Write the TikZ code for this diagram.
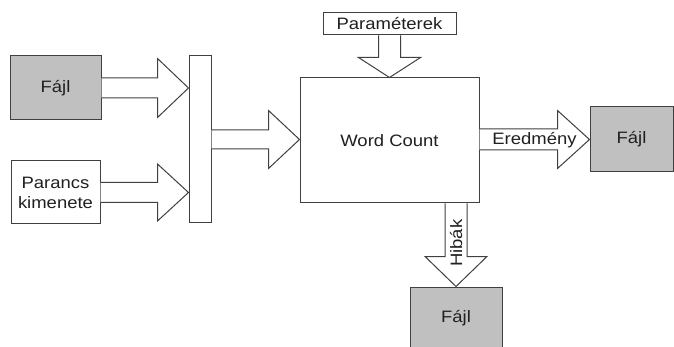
\documentclass[tikz,border=0pt]{standalone}
\usepackage{fontspec}
\setmainfont{Liberation Sans}[FakeStretch=1.12]
\usetikzlibrary{calc}
\definecolor{linec}{HTML}{404040}
\definecolor{filec}{HTML}{C0C0C0}
\definecolor{textc}{HTML}{202020}
\tikzset{
  box/.style={draw=linec, line width=1pt, inner sep=0pt, align=center, text=textc, font=\fontsize{16.5}{20}\selectfont},
  filebox/.style={box, fill=filec},
  barrow/.style={draw=linec, line width=1pt, fill=white},
  lbl/.style={inner sep=0pt, text=textc, font=\fontsize{16.5}{20}\selectfont}
}
\newcommand\harrowblk[5]{\draw[barrow] let \p1=(#1), \p2=(#2) in (\x1,{\y2+#3pt}) -- ({\x2-#5pt},{\y2+#3pt}) -- ({\x2-#5pt},{\y2+#4pt}) -- (\x2,\y2) -- ({\x2-#5pt},{\y2-#4pt}) -- ({\x2-#5pt},{\y2-#3pt}) -- (\x1,{\y2-#3pt});}
\newcommand\varrowblk[5]{\draw[barrow] let \p1=(#1), \p2=(#2) in ({\x2-#3pt},\y1) -- ({\x2-#3pt},{\y2+#5pt}) -- ({\x2-#4pt},{\y2+#5pt}) -- (\x2,\y2) -- ({\x2+#4pt},{\y2+#5pt}) -- ({\x2+#3pt},{\y2+#5pt}) -- ({\x2+#3pt},\y1);}
\begin{document}
\begin{tikzpicture}[x=1pt,y=-1pt]
\useasboundingbox (0,0) rectangle (674,347);
\node[filebox, minimum width=91pt, minimum height=64pt] (fajl1) at (55.5,88) {Fájl};
\node[box, fill=white, minimum width=89pt, minimum height=63pt] (parancs) at (55.5,192.5) {Parancs\\kimenete};
\node[box, fill=white, minimum width=22pt, minimum height=167pt] (bar) at (200,139.5) {};
\node[box, fill=white, minimum width=179pt, minimum height=125pt] (main) at (389.5,140.5) {Word Count};
\node[box, fill=white, minimum width=133pt, minimum height=22pt] (param) at (389.5,24) {Paraméterek};
\node[filebox, minimum width=83pt, minimum height=65pt] (fajl2) at (631.5,139.5) {Fájl};
\node[filebox, minimum width=92pt, minimum height=62pt] (fajl3) at (456,318) {Fájl};
\coordinate (hibstart) at (fajl3.north |- main.south);
\harrowblk{fajl1.east}{bar.west |- fajl1.east}{10}{29.5}{31}
\harrowblk{parancs.east}{bar.west |- parancs.east}{10}{28.5}{31}
\harrowblk{bar.east}{main.west |- bar.east}{9.5}{29}{31}
\harrowblk{main.east}{fajl2.west}{10.5}{29}{32}
\varrowblk{param.south}{main.north}{11}{31}{20}
\varrowblk{hibstart}{fajl3.north}{11}{31}{30}
\node[lbl] (eredm) at ($(main.east)!0.5!(fajl2.west)$) {Eredmény};
\node[lbl, rotate=90] (hibak) at ($(hibstart)!0.48!(fajl3.north)$) {Hibák};
\end{tikzpicture}
\end{document}
